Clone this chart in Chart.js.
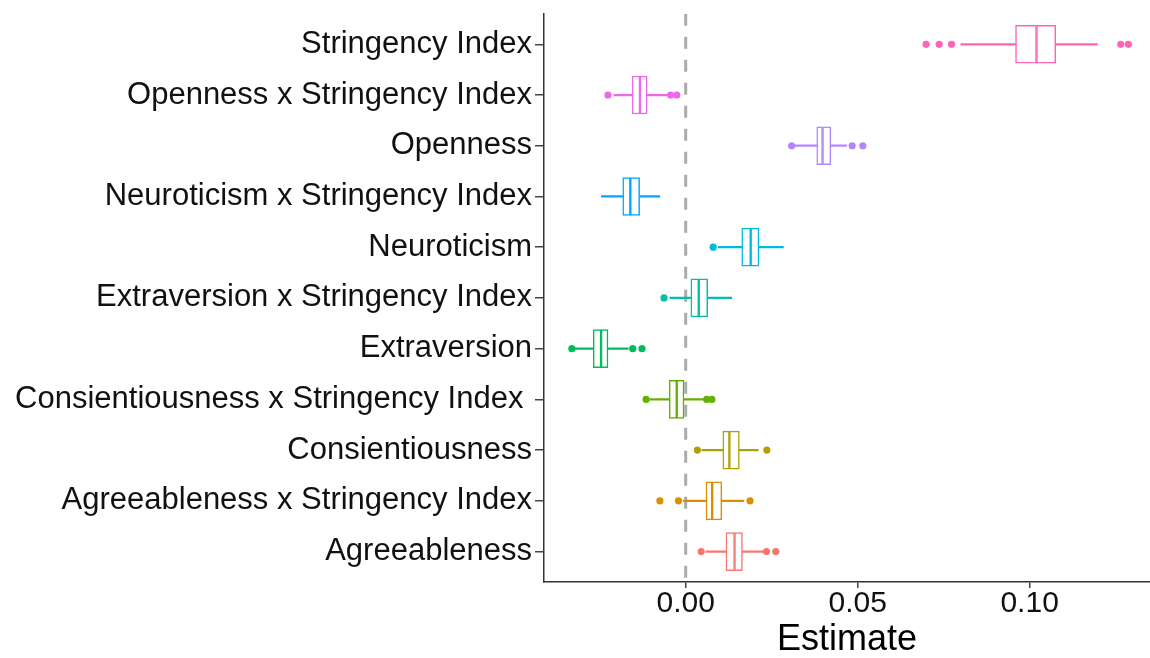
<!DOCTYPE html>
<html><head><meta charset="utf-8">
<script src="https://cdn.jsdelivr.net/npm/chart.js@4"></script>
<style>html,body{margin:0;padding:0;background:#fff}#wrap{width:1150px;height:658px;position:relative}</style>
</head><body><div id="wrap"><canvas id="c"></canvas></div>
<script>
// top-to-bottom order
const categories = ["Stringency Index","Openness x Stringency Index","Openness","Neuroticism x Stringency Index","Neuroticism","Extraversion x Stringency Index","Extraversion","Consientiousness x Stringency Index ","Consientiousness","Agreeableness x Stringency Index","Agreeableness"];
const colors = ["#FF63B6","#EF67EB","#B385FF","#00A6FF","#00BADE","#00C1A7","#00BD5C","#64B200","#AEA200","#DB8E00","#F8766D"];
const whiskerLow  = [0.0800,-0.0209,0.0315,-0.0245,0.0095,-0.0046,-0.0325,-0.0104,0.0047,-0.0007,0.0059];
const q1          = [0.0959,-0.0156,0.0381,-0.0183,0.0163, 0.0015,-0.0269,-0.0048,0.0108, 0.0059,0.0117];
const median      = [0.1020,-0.0133,0.0398,-0.0161,0.0189, 0.0038,-0.0246,-0.0026,0.0127, 0.0077,0.0142];
const q3          = [0.1076,-0.0112,0.0422,-0.0134,0.0213, 0.0064,-0.0226,-0.0005,0.0156, 0.0105,0.0165];
const whiskerHigh = [0.1197,-0.0050,0.0468,-0.0075,0.0284, 0.0134,-0.0167, 0.0051,0.0211, 0.0169,0.0226];
const outliers = [[0.0699,0.0737,0.0773,0.1265,0.1287],[-0.0226,-0.0044,-0.0026],[0.0308,0.0484,0.0515],[],[0.0080],[-0.0063],[-0.0331,-0.0154,-0.0127],[-0.0115,0.0061,0.0076],[0.0034,0.0236],[-0.0075,-0.0021,0.0187],[0.0045,0.0235,0.0262]];
const xTicks = [0, 0.05, 0.10];
const xMin = -0.0412, xMax = 0.1350;
const refLine = 0;

const FONT = "'Liberation Sans', Arial, sans-serif";
const pos = categories.map((c,i)=>i+1);
const rangeData = (a,b)=>pos.map((p,i)=>({y:p, x:[a[i], b[i]]}));
const outData = [], outColors = [];
outliers.forEach((arr,i)=>arr.forEach(v=>{outData.push({x:v, y:i+1}); outColors.push(colors[i]);}));

const whiskerDs = (a,b)=>({type:'bar', indexAxis:'y', grouped:false, data:rangeData(a,b), backgroundColor:colors, borderWidth:0, barThickness:1.6, order:5});
const boxDs = (a,b)=>({type:'bar', indexAxis:'y', grouped:false, data:rangeData(a,b), backgroundColor:'#ffffff', borderColor:colors, borderWidth:1.5, borderSkipped:false, barThickness:38, order:3});

new Chart(document.getElementById('c'), {
  data: {
    datasets: [
      {type:'line', data:[{x:refLine,y:0.4},{x:refLine,y:11.6}], borderColor:'#ababab', borderWidth:3, borderDash:[12,11], pointRadius:0, order:10},
      whiskerDs(whiskerLow, q1),
      whiskerDs(q3, whiskerHigh),
      boxDs(q1, median),
      boxDs(median, q3),
      {type:'scatter', data:outData, pointBackgroundColor:outColors, pointBorderWidth:0, pointRadius:3.6, order:1}
    ]
  },
  options: {
    responsive:true, maintainAspectRatio:false, animation:false,
    layout:{autoPadding:false, padding:{top:12,right:0,left:0,bottom:0}},
    plugins:{legend:{display:false}, tooltip:{enabled:false}},
    scales:{
      x:{type:'linear', offset:false, min:xMin, max:xMax,
        afterBuildTicks:(s)=>{s.ticks = xTicks.map(v=>({value:v}));},
        afterFit:(s)=>{s.height = 76;},
        ticks:{callback:(v)=>Number(v).toFixed(2), font:{family:FONT,size:30,lineHeight:1}, color:'#111', padding:1, maxRotation:0},
        grid:{offset:false, drawOnChartArea:false, tickLength:6, color:'#444', lineWidth:1.5},
        border:{color:'#333', width:1.5},
        title:{display:true, text:'Estimate', font:{family:FONT,size:36,lineHeight:1}, color:'#000', padding:{top:0,bottom:0}}
      },
      y:{type:'linear', offset:false, reverse:true, min:0.4, max:11.6,
        afterBuildTicks:(s)=>{s.ticks = pos.map(v=>({value:v}));},
        afterFit:(s)=>{s.width = 544;},
        ticks:{autoSkip:false, callback:(v)=>categories[Math.round(v)-1], font:{family:FONT,size:31,lineHeight:0.7}, color:'#111', padding:3},
        grid:{offset:false, drawOnChartArea:false, tickLength:9, color:'#444', lineWidth:1.5},
        border:{color:'#333', width:1.5}
      }
    }
  }
});
</script></body></html>
